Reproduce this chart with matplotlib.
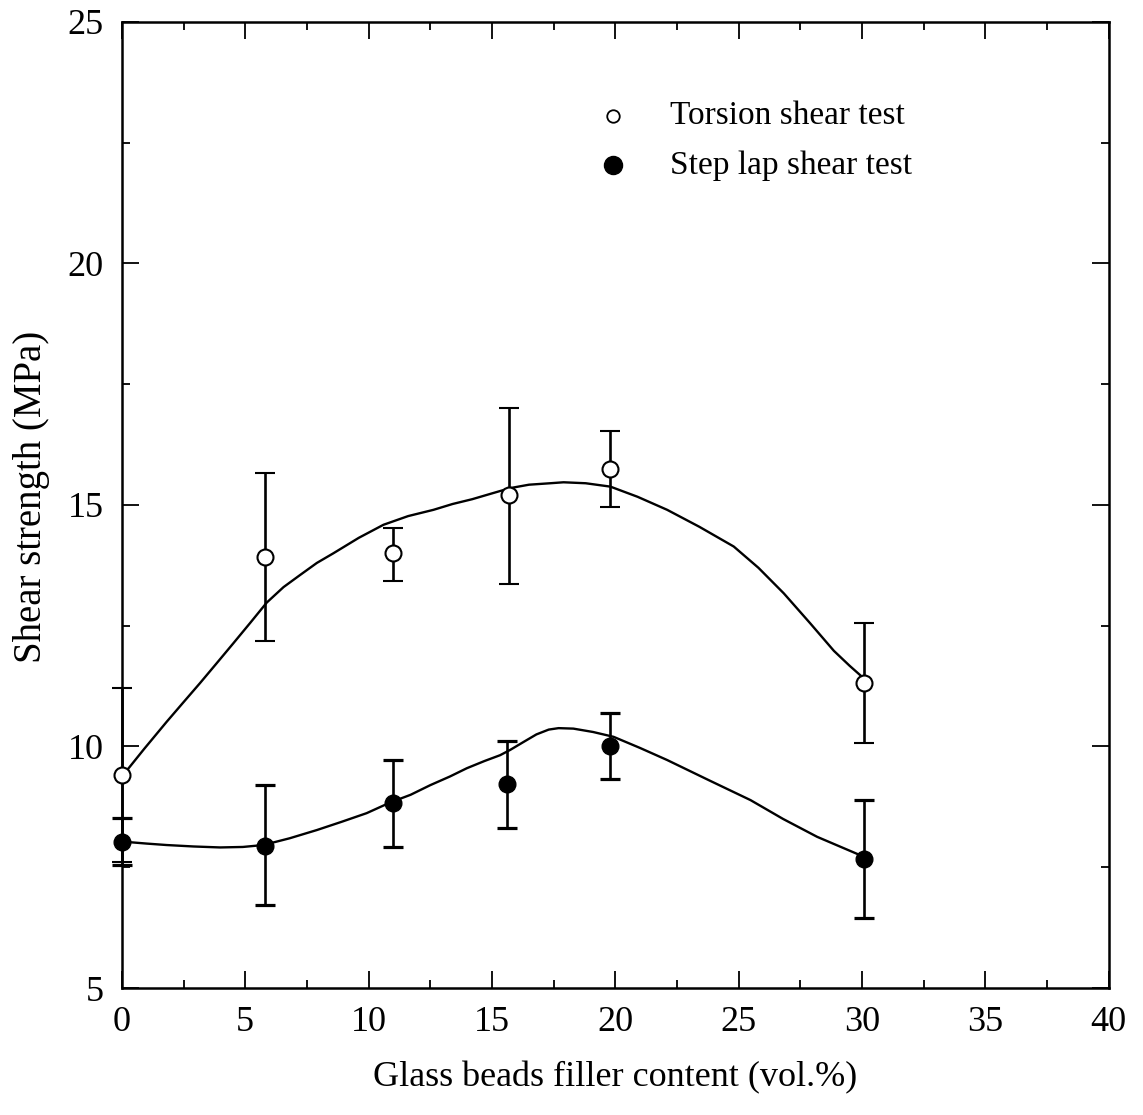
import numpy as np
import matplotlib
matplotlib.use("Agg")
import matplotlib.pyplot as plt
from matplotlib.ticker import MultipleLocator

plt.rcParams['font.family'] = ['Liberation Serif', 'DejaVu Serif']

# measured points (vol.% filler, shear strength MPa, error bars)
torsion_x = [0.0, 5.8, 11.0, 15.7, 19.8, 30.1]
torsion_y = [9.41, 13.92, 14.0, 15.2, 15.75, 11.31]
torsion_err_lo = [1.8, 1.74, 0.57, 1.84, 0.79, 1.24]
torsion_err_hi = [1.8, 1.74, 0.52, 1.80, 0.78, 1.25]

step_x = [0.0, 5.8, 11.0, 15.6, 19.8, 30.1]
step_y = [8.02, 7.94, 8.83, 9.22, 10.01, 7.67]
step_err_lo = [0.47, 1.22, 0.91, 0.91, 0.68, 1.22]
step_err_hi = [0.50, 1.26, 0.89, 0.89, 0.68, 1.22]

# fitted trend curves
torsion_fit_x = [0.05, 0.9, 1.81, 2.5, 3.16, 3.85, 4.52, 5.2, 5.87, 6.55,
                 7.22, 7.9, 8.57, 9.6, 10.6, 11.6, 12.63, 13.4, 14.2, 15.0,
                 15.74, 16.5, 17.36, 17.9, 18.8, 19.8, 20.9, 22.1, 23.4, 24.8,
                 25.8, 26.83, 27.9, 28.86, 29.5, 30.14]
torsion_fit_y = [9.41, 9.95, 10.51, 10.92, 11.31, 11.73, 12.14, 12.56, 12.98, 13.3,
                 13.55, 13.8, 14.0, 14.32, 14.59, 14.77, 14.9, 15.02, 15.12, 15.24,
                 15.35, 15.42, 15.45, 15.47, 15.45, 15.38, 15.17, 14.9, 14.55, 14.14,
                 13.7, 13.17, 12.55, 11.98, 11.67, 11.38]

step_fit_x = [0.05, 1.0, 1.81, 2.9, 3.98, 4.9, 5.73, 6.8, 7.9, 8.9,
              9.92, 10.87, 11.7, 12.5, 13.3, 13.98, 14.7, 15.33, 15.74, 16.3,
              16.8, 17.3, 17.7, 18.3, 19.1, 19.93, 21.0, 22.1, 23.8, 25.48,
              26.8, 28.18, 30.2]
step_fit_y = [8.03, 7.99, 7.96, 7.93, 7.91, 7.92, 7.96, 8.1, 8.27, 8.44,
              8.62, 8.84, 9.0, 9.2, 9.38, 9.55, 9.7, 9.82, 9.93, 10.1,
              10.25, 10.35, 10.38, 10.37, 10.3, 10.2, 9.97, 9.72, 9.3, 8.89,
              8.5, 8.13, 7.69]

x_ticks = [0, 5, 10, 15, 20, 25, 30, 35, 40]
y_ticks = [5, 10, 15, 20, 25]

fig = plt.figure(figsize=(11.43, 11.15), dpi=100)
ax = fig.add_axes([0.1067, 0.1139, 0.8633, 0.8664])

ax.plot(torsion_fit_x, torsion_fit_y, color='black', lw=1.7, zorder=2)
ax.plot(step_fit_x, step_fit_y, color='black', lw=1.7, zorder=2)

ax.errorbar(torsion_x, torsion_y, yerr=[torsion_err_lo, torsion_err_hi],
            fmt='o', ms=11.5, mfc='white', mec='black', mew=1.5,
            ecolor='black', elinewidth=1.9, capsize=7, capthick=2.3,
            zorder=3, clip_on=False)
ax.errorbar(step_x, step_y, yerr=[step_err_lo, step_err_hi],
            fmt='o', ms=12, mfc='black', mec='black',
            ecolor='black', elinewidth=1.9, capsize=7, capthick=2.3,
            zorder=3, clip_on=False)

# legend drawn by hand to match placement
ax.plot([0.498], [0.9025], 'o', ms=9, mfc='white', mec='black', mew=1.3,
        transform=ax.transAxes, clip_on=False)
ax.plot([0.498], [0.8515], 'o', ms=13, mfc='black', mec='black',
        transform=ax.transAxes, clip_on=False)
ax.text(0.555, 0.9025, 'Torsion shear test', transform=ax.transAxes,
        fontsize=24, va='center', ha='left')
ax.text(0.555, 0.8515, 'Step lap shear test', transform=ax.transAxes,
        fontsize=24, va='center', ha='left')

ax.set_xlim(0, 40)
ax.set_ylim(5, 25)
ax.set_xticks(x_ticks)
ax.set_yticks(y_ticks)
ax.xaxis.set_minor_locator(MultipleLocator(2.5))
ax.yaxis.set_minor_locator(MultipleLocator(2.5))
ax.tick_params(which='both', direction='in', top=True, right=True,
               labelsize=26, width=1.3)
ax.tick_params(which='major', length=12, pad=13)
ax.tick_params(which='minor', length=6)
for s in ax.spines.values():
    s.set_linewidth(1.8)

ax.set_xlabel('Glass beads filler content (vol.%)', fontsize=26, labelpad=16)
ax.set_ylabel('Shear strength (MPa)', fontsize=28)
ax.yaxis.set_label_coords(-0.073, 0.508)

fig.savefig('out.png', dpi=100)
